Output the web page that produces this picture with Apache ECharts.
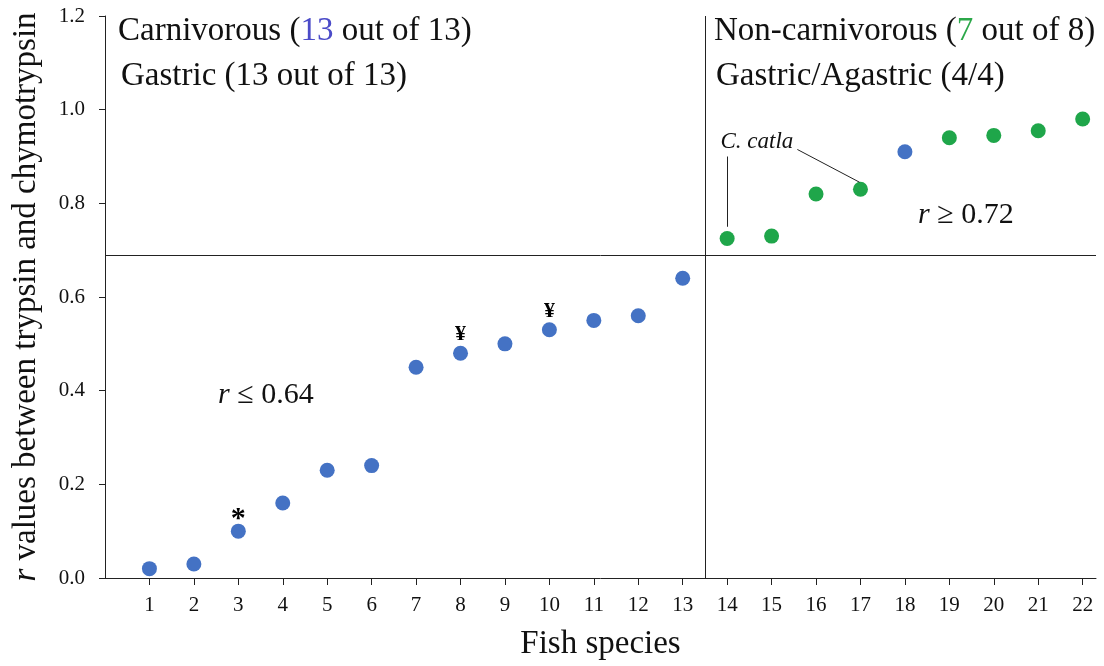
<!DOCTYPE html>
<html><head><meta charset="utf-8">
<script src="https://cdn.jsdelivr.net/npm/echarts@6/dist/echarts.min.js"></script>
<style>html,body{margin:0;padding:0;background:#fff}#c{width:1104px;height:666px}</style>
</head><body><div id="c"></div>
<script>
// ---- data ----
const species = [1,2,3,4,5,6,7,8,9,10,11,12,13,14,15,16,17,18,19,20,21,22];
const rValues = [0.02,0.03,0.10,0.16,0.23,0.24,0.45,0.48,0.50,0.53,0.55,0.56,0.64,0.725,0.73,0.82,0.83,0.91,0.94,0.945,0.955,0.98];
const diet    = ['C','C','C','C','C','C','C','C','C','C','C','C','C','N','N','N','N','C','N','N','N','N'];
const notes   = ['','','*','','','','','¥','','¥','','','','','','','','','','','',''];
const xTicks  = [1,2,3,4,5,6,7,8,9,10,11,12,13,14,15,16,17,18,19,20,21,22];
const splitR = 0.687;      // horizontal divider
const splitSpecies = 13.5; // vertical divider

const BLUE = '#4472C4', GREEN = '#1FA64A';
const FONT = '"Liberation Serif","Times New Roman",serif';

const data = species.map((s,i)=>({
  value:[s, rValues[i]],
  itemStyle:{color: diet[i]==='C'?BLUE:GREEN, opacity:1},
  label:{show: !!notes[i], formatter: notes[i], position:'top',
         distance: notes[i]==='*'?-11:0,
         fontFamily: FONT, fontSize: notes[i]==='*'?30:22, fontWeight:'bold', color:'#000'}
}));

const chart = echarts.init(document.getElementById('c'));
chart.setOption({
  animation:false,
  backgroundColor:'#fff',
  grid:{left:105, right:8, top:16, bottom:86},
  xAxis:{
    type:'value', min:0, max:22.3,
    name:'Fish species', nameLocation:'middle', nameGap:50,
    nameTextStyle:{fontFamily:FONT, fontSize:33, color:'#111'},
    axisLine:{show:true, onZero:false, lineStyle:{color:'#222', width:1}},
    axisTick:{show:true, length:7, lineStyle:{color:'#222'}, customValues: xTicks},
    axisLabel:{customValues: xTicks, margin:17, fontFamily:FONT, fontSize:21, color:'#111'},
    splitLine:{show:false}
  },
  yAxis:{
    type:'value', min:0, max:1.2, interval:0.2,
    name:'{i|r} values between trypsin and chymotrypsin', nameLocation:'middle', nameGap:62,
    nameTextStyle:{fontFamily:FONT, fontSize:33, color:'#111',
      rich:{i:{fontFamily:FONT, fontSize:33, fontStyle:'italic', color:'#111'}}},
    axisLine:{show:true, lineStyle:{color:'#222', width:1}},
    axisTick:{show:true, length:6, lineStyle:{color:'#222'}},
    axisLabel:{margin:20, fontFamily:FONT, fontSize:21, color:'#111', formatter:v=>v.toFixed(1)},
    splitLine:{show:false}
  },
  series:[{
    type:'scatter', symbolSize:15, data:data, z:3,
    markLine:{
      silent:true, symbol:'none', animation:false,
      label:{show:false},
      lineStyle:{color:'#222', width:1, type:'solid'},
      data:[
        {yAxis: splitR},
        [{coord:[splitSpecies,0]},{coord:[splitSpecies,1.2]}],
        [{coord:[14,0.75]},{coord:[14,0.90]}],
        [{coord:[15.58,0.915]},{coord:[16.98,0.845]}]
      ]
    }
  }]
});

function px(x,y){ return chart.convertToPixel({gridIndex:0},[x,y]); }
const rich = {
  a:{fontFamily:FONT, fontSize:33, fill:'#111'},
  b:{fontFamily:FONT, fontSize:33, fill:'#4B4BC8'},
  g:{fontFamily:FONT, fontSize:33, fill:'#2CA84A'},
  i:{fontFamily:FONT, fontSize:30, fontStyle:'italic', fill:'#111'},
  n:{fontFamily:FONT, fontSize:30, fill:'#111'}
};
function txt(x,y,text){
  return {type:'text', x:x, y:y, z:10, style:{text:text, rich:rich, verticalAlign:'middle', align:'left',
     fontFamily:FONT, fontSize:33, fill:'#111'}};
}
const cat = px(14.67, 0.93);
chart.setOption({graphic:[
  txt(118,31,'{a|Carnivorous (}{b|13}{a| out of 13)}'),
  txt(121,76,'{a|Gastric (13 out of 13)}'),
  txt(714,31,'{a|Non-carnivorous (}{g|7}{a| out of 8)}'),
  txt(716,76,'{a|Gastric/Agastric (4/4)}'),
  txt(218,395,'{i|r}{n| ≤ 0.64}'),
  txt(918,215,'{i|r}{n| ≥ 0.72}'),
  {type:'text', x:cat[0], y:cat[1], z:10, style:{text:'C. catla', align:'center', verticalAlign:'middle',
     fontFamily:FONT, fontSize:23, fontStyle:'italic', fill:'#111'}}
]});
</script></body></html>
